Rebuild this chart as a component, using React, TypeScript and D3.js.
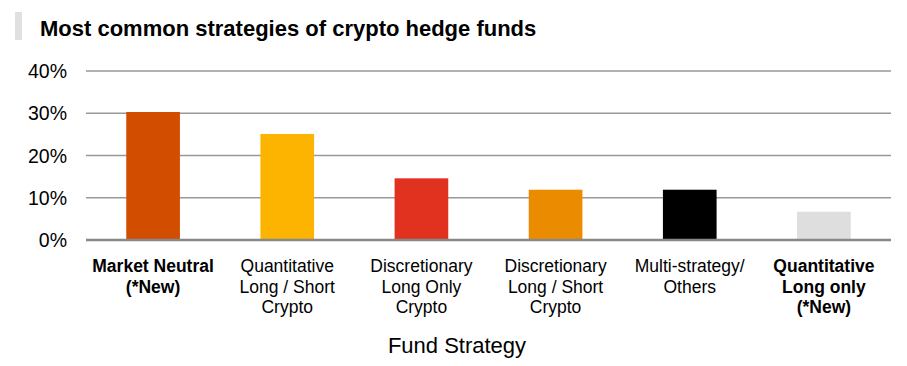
import React from 'react';
import * as d3 from 'd3';

const categories: string[][] = [
  ['Market Neutral', '(*New)'],
  ['Quantitative', 'Long / Short', 'Crypto'],
  ['Discretionary', 'Long Only', 'Crypto'],
  ['Discretionary', 'Long / Short', 'Crypto'],
  ['Multi-strategy/', 'Others'],
  ['Quantitative', 'Long only', '(*New)'],
];
const values = [30.3, 25.1, 14.6, 11.9, 11.9, 6.7];
const boldLabels = [true, false, false, false, false, true];
const barColors = ['#D24D00', '#FDB400', '#E0321F', '#EB8C00', '#000000', '#DEDEDE'];
const yTicks = [0, 10, 20, 30, 40];

const W = 907;
const H = 366;
const font = 'Arial, "Liberation Sans", Helvetica, sans-serif';

const App: React.FC = () => {
  const left = 86;
  const right = 891;
  const top = 71;
  const bottom = 240;

  const x = d3
    .scaleBand<number>()
    .domain(values.map((_, i) => i))
    .range([left, right])
    .paddingInner(0.6)
    .paddingOuter(0.3);

  const y = d3.scaleLinear().domain([0, 40]).range([bottom, top]);

  return (
    <svg
      width={W}
      height={H}
      style={{ position: 'absolute', left: 0, top: 0, background: '#fff' }}
      fontFamily={font}
    >
      <rect x={15} y={12} width={7} height={28} fill="#e0e0e0" />
      <text x={40} y={36} fontSize={22} fontWeight="bold" fill="#000">
        Most common strategies of crypto hedge funds
      </text>

      {yTicks.map(t => (
        <g key={t}>
          {t !== 0 && (
            <line x1={left} x2={right} y1={y(t)} y2={y(t)} stroke="#999" strokeWidth={1.5} />
          )}
          <text x={67} y={y(t) + 7} fontSize={19.5} textAnchor="end" fill="#000">
            {t}%
          </text>
        </g>
      ))}

      {values.map((v, i) => (
        <rect
          key={i}
          x={x(i)}
          y={y(v)}
          width={x.bandwidth()}
          height={y(0) - y(v)}
          fill={barColors[i]}
        />
      ))}

      <line x1={left} x2={right} y1={y(0)} y2={y(0)} stroke="#888" strokeWidth={2.5} />

      {categories.map((lines, i) => {
        const cx = (x(i) ?? 0) + x.bandwidth() / 2;
        return (
          <text
            key={i}
            x={cx}
            y={272}
            fontSize={17.5}
            textAnchor="middle"
            fontWeight={boldLabels[i] ? 'bold' : 'normal'}
            fill="#000"
          >
            {lines.map((l, j) => (
              <tspan key={j} x={cx} dy={j === 0 ? 0 : 20.5}>
                {l}
              </tspan>
            ))}
          </text>
        );
      })}

      <text x={457} y={353} fontSize={22} textAnchor="middle" fill="#000">
        Fund Strategy
      </text>
    </svg>
  );
};

export default App;
